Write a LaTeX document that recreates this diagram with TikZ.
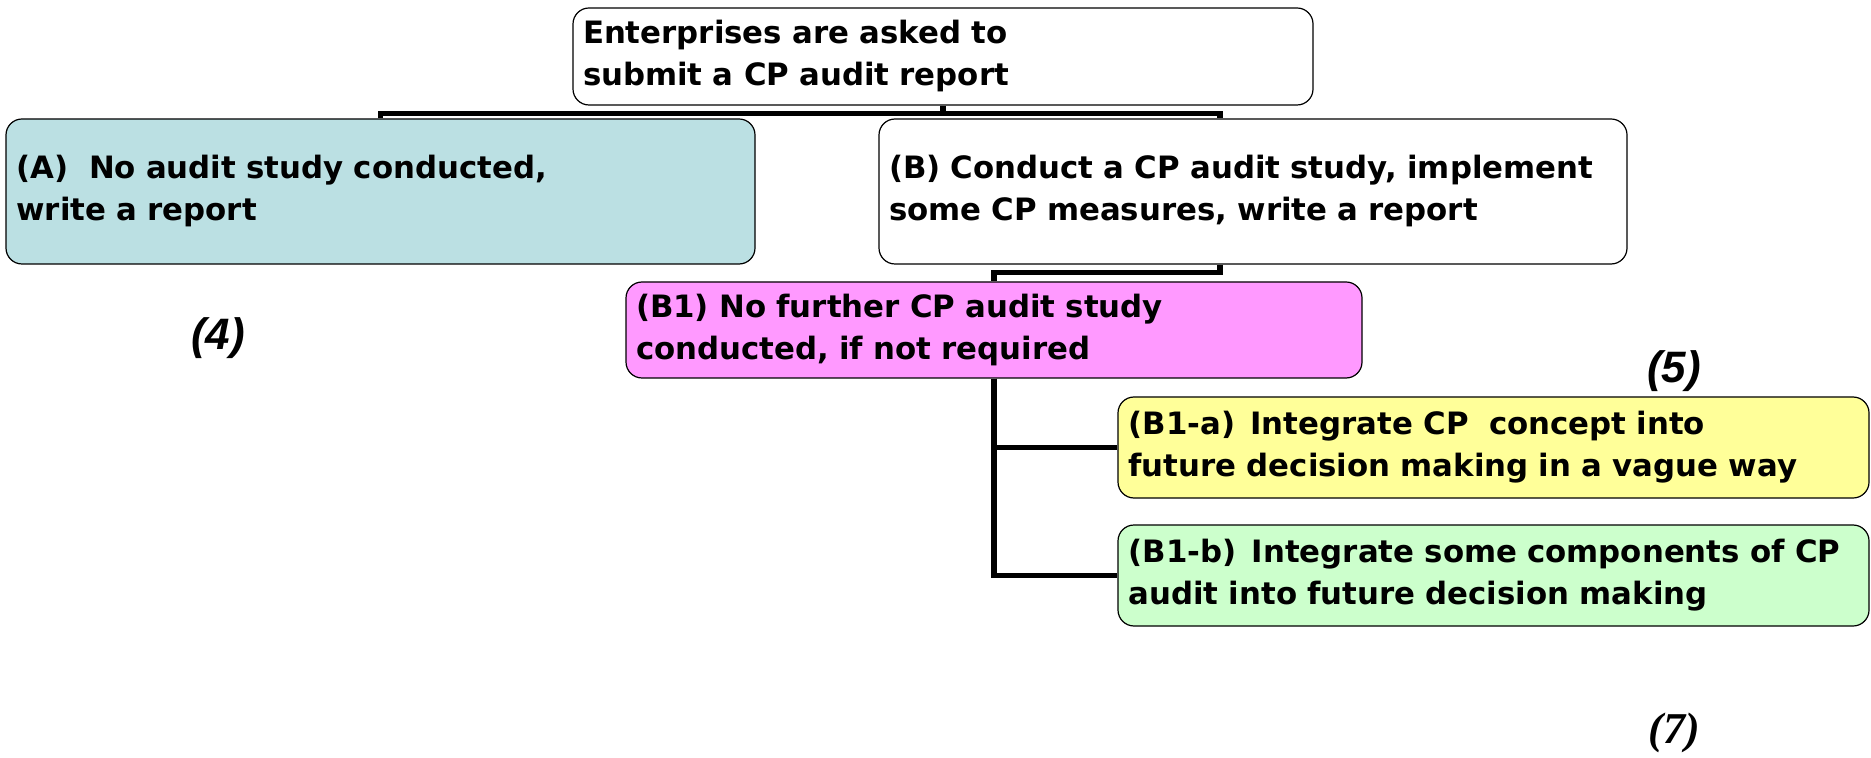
\documentclass[tikz,border=0pt]{standalone}
\usepackage{fontspec}
\setmainfont{DejaVu Sans}
\newfontfamily\tagfont{Liberation Sans}
\newfontfamily\numfont{Liberation Serif}
\usepackage{xcolor}
\usepackage{tikz}
\usetikzlibrary{positioning,calc}

\definecolor{boxA}{HTML}{BBE0E3}
\definecolor{boxB1}{HTML}{FF99FF}
\definecolor{boxBa}{HTML}{FFFF99}
\definecolor{boxBb}{HTML}{CCFFCC}

\begin{document}
\begin{tikzpicture}[x=0.5pt,y=-0.5pt,
    box/.style={draw,rounded corners=8pt,line width=0.6pt,align=left,
      inner xsep=5pt,font=\bfseries\fontsize{15.4}{21}\selectfont},
    conn/.style={line width=2.8pt},
    tag/.style={font=\tagfont\bfseries\itshape\fontsize{22}{24}\selectfont}]
  \useasboundingbox (0,0) rectangle (1871,758);

  \node[box,minimum width=370pt,minimum height=48.5pt,text width=360pt]
       (top) at (943,56.5) {Enterprises are asked to\\submit a CP audit report};

  \node[box,fill=boxA,minimum width=374.5pt,minimum height=72.5pt,text width=364pt]
       (A) at (380.5,191.5) {(A)\ \ No audit study conducted,\\write a report};
  \node[box,minimum width=374pt,minimum height=72.5pt,text width=364pt]
       (B) at (1253,191.5) {(B) Conduct a CP audit study, implement\\some CP measures, write a report};

  \node[box,fill=boxB1,minimum width=368pt,minimum height=48pt,text width=358pt]
       (B1) at (994,330) {(B1) No further CP audit study\\conducted, if not required};

  \node[box,fill=boxBa,minimum width=375.5pt,minimum height=50.5pt,text width=365pt]
       (B1a) at (1493.5,447.5) {(B1-a)\, Integrate CP\ \ concept into\\future decision making in a vague way};
  \node[box,fill=boxBb,minimum width=375.5pt,minimum height=50.5pt,text width=365pt]
       (B1b) at (1493.5,575.5) {(B1-b)\, Integrate some components of CP\\audit into future decision making};

  % tree lines
  \draw[conn] (top.south) -- ([yshift=-4pt]top.south);
  \draw[conn] (A.north) |- ([yshift=-4pt]top.south) -| ([xshift=-16.5pt]B.north);
  \draw[conn] ([xshift=-16.5pt]B.south) -- ++(0,-4pt) -| (B1.north);
  \draw[conn] (B1.south) |- (B1a.west);
  \draw[conn] (B1.south) |- (B1b.west);

  \node[tag] (n4) at (218,338) {(4)};
  \node[tag] (n5) at (1674,371) {(5)};
  \node[tag,font=\numfont\bfseries\itshape\fontsize{22}{24}\selectfont] (n7) at (1674,733) {(7)};
\end{tikzpicture}
\end{document}
